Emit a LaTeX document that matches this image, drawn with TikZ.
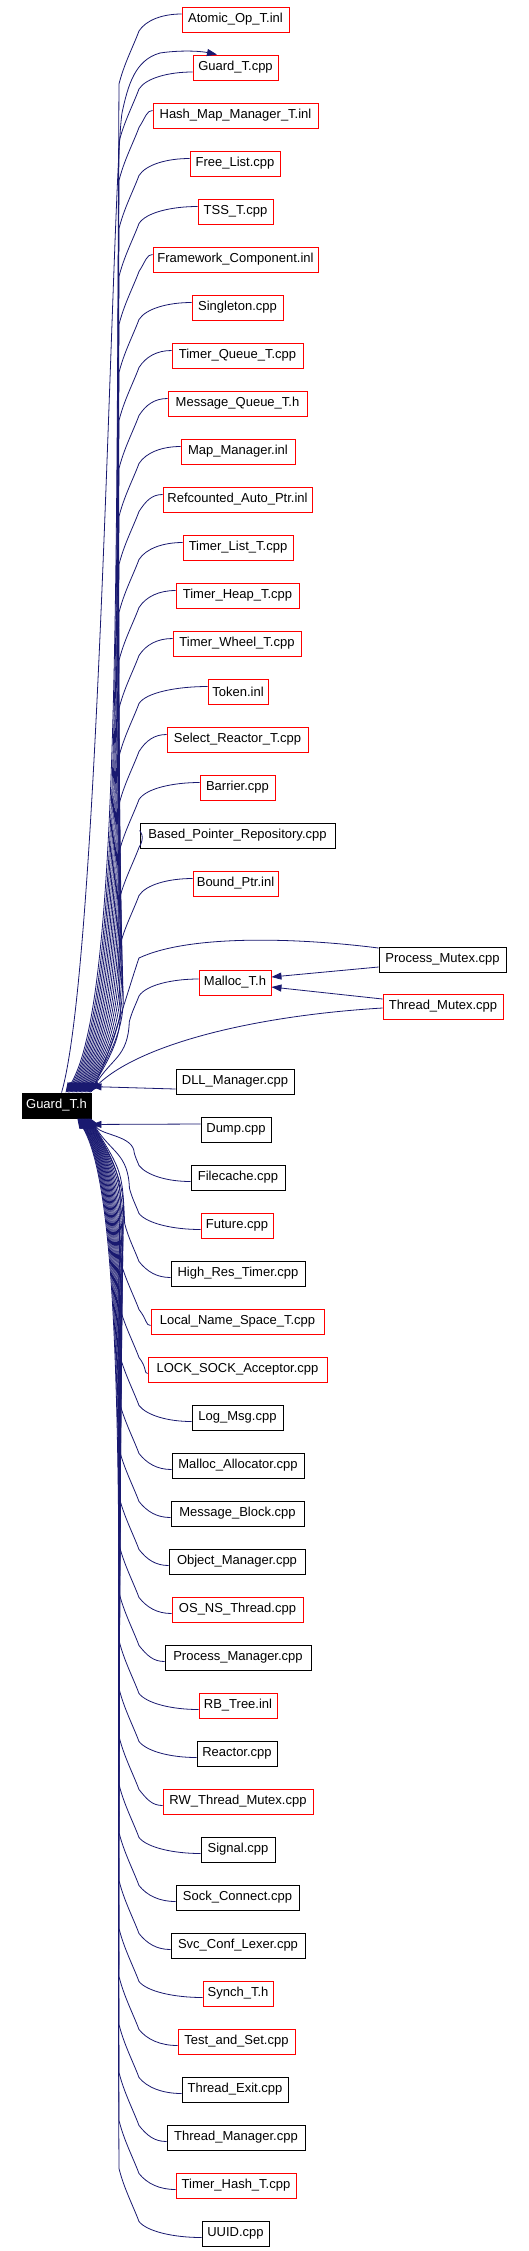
\documentclass[tikz,border=0pt]{standalone}
\usepackage{fontspec}
\setmainfont{Liberation Sans}
\usetikzlibrary{arrows.meta,calc}
\definecolor{mblue}{HTML}{191970}
\definecolor{bred}{HTML}{FF0000}
\tikzset{
  box/.style={draw, line width=0.9pt, minimum height=25pt, inner xsep=0pt, inner ysep=0pt,
    font=\fontsize{13}{15}\selectfont, text=black, fill=white},
  edge/.style={draw=mblue, line width=0.8pt, -{Triangle[length=10pt,width=7pt]}, mblue}
}
\begin{document}
\begin{tikzpicture}[x=1pt,y=-1pt]
\fill[white] (0,0) rectangle (528,2251);
\useasboundingbox (0,0) rectangle (528,2251);

% root node
\node[box, draw=black, fill=black, text=white, minimum width=69pt] (g) at (56.5,1105.5) {Guard\_T.h};

% nodes
\foreach \n/\l/\r/\t/\c/\s in {
 a0/182/289/7/bred/Atomic\_Op\_T.inl,
 a1/193/278/55/bred/Guard\_T.cpp,
 a2/153/318/103/bred/Hash\_Map\_Manager\_T.inl,
 a3/190/280/151/bred/Free\_List.cpp,
 a4/198/273/199/bred/TSS\_T.cpp,
 a5/153/318/247/bred/Framework\_Component.inl,
 a6/192/283/295/bred/Singleton.cpp,
 a7/172/303/343/bred/Timer\_Queue\_T.cpp,
 a8/168/307/391/bred/Message\_Queue\_T.h,
 a9/181/295/439/bred/Map\_Manager.inl,
 a10/163/312/487/bred/Refcounted\_Auto\_Ptr.inl,
 a11/183/293/535/bred/Timer\_List\_T.cpp,
 a12/176/299/583/bred/Timer\_Heap\_T.cpp,
 a13/173/301/631/bred/Timer\_Wheel\_T.cpp,
 a14/208/268/679/bred/Token.inl,
 a15/167/308/727/bred/Select\_Reactor\_T.cpp,
 a16/200/275/775/bred/Barrier.cpp,
 a17/140/335/823/black/Based\_Pointer\_Repository.cpp,
 a18/193/278/871/bred/Bound\_Ptr.inl,
 malloc/199/271/970/bred/Malloc\_T.h,
 pm/379/506/947/black/Process\_Mutex.cpp,
 tm/383/503/994/bred/Thread\_Mutex.cpp,
 dll/176/294/1069/black/DLL\_Manager.cpp,
 dump/201/271/1117/black/Dump.cpp,
 b0/191/285/1165/black/Filecache.cpp,
 b1/201/273/1213/bred/Future.cpp,
 b2/171/305/1261/black/High\_Res\_Timer.cpp,
 b3/151/324/1309/bred/Local\_Name\_Space\_T.cpp,
 b4/148/327/1357/bred/LOCK\_SOCK\_Acceptor.cpp,
 b5/192/283/1405/black/Log\_Msg.cpp,
 b6/172/304/1453/black/Malloc\_Allocator.cpp,
 b7/171/304/1501/black/Message\_Block.cpp,
 b8/169/305/1549/black/Object\_Manager.cpp,
 b9/172/303/1597/bred/OS\_NS\_Thread.cpp,
 b10/165/311/1645/black/Process\_Manager.cpp,
 b11/199/277/1693/bred/RB\_Tree.inl,
 b12/197/277/1741/black/Reactor.cpp,
 b13/163/313/1789/bred/RW\_Thread\_Mutex.cpp,
 b14/201/275/1837/black/Signal.cpp,
 b15/176/299/1885/black/Sock\_Connect.cpp,
 b16/171/305/1933/black/Svc\_Conf\_Lexer.cpp,
 b17/203/273/1981/bred/Synch\_T.h,
 b18/178/295/2029/bred/Test\_and\_Set.cpp,
 b19/182/288/2077/black/Thread\_Exit.cpp,
 b20/167/305/2125/black/Thread\_Manager.cpp,
 b21/176/296/2173/bred/Timer\_Hash\_T.cpp,
 b22/202/269/2221/black/UUID.cpp}
{
  \node[box, draw=\c, minimum width={\r-\l}] (\n) at ({(\l+\r)/2},{\t+12.5}) {\s};
}

% upper edges into the top of Guard_T.h
\foreach \n/\l/\t/\i/\ys in {
 a0/182/7/0/5.5, a1/193/55/1/-4.5, a2/153/103/2/5, a3/190/151/3/5, a4/198/199/4/5,
 a5/153/247/5/5, a6/192/295/6/5, a7/172/343/7/5, a8/168/391/8/5, a9/181/439/9/5,
 a10/163/487/10/5, a11/183/535/11/5, a12/176/583/12/5, a13/173/631/13/5,
 a14/208/679/14/5, a15/167/727/15/5, a16/200/775/16/5, a17/140/823/17/5,
 a18/193/871/18/5, malloc/199/970/19/3.5}
{
  \pgfmathsetmacro\yw{\t+12.5-\ys}
  \pgfmathsetmacro\py{\yw+17}
  \pgfmathsetmacro\tx{66+1.3*\i}
  \pgfmathsetmacro\ff{min(1,(1093-\py)/200)}
  \pgfmathsetmacro\by{\py+53*\ff}
  \pgfmathsetmacro\L{1093-\by}
  \pgfmathsetmacro\q{min(90,0.5*\L)}
  \draw[edge] ([yshift=\ys pt]\n.west) .. controls ({\l-0.45*(\l-139)},\yw) and (146,{\yw+6}) .. (139,\py)
     .. controls ({139-6*\ff},{\py+16*\ff}) and ({139-15*\ff},{\py+33*\ff}) .. ({139-20*\ff},\by)
     .. controls ({139-23*\ff},{\by+0.5*\L}) and ({\tx+0.6*\q},{1093-\q}) .. ($(g.north west)+({\tx-22},0)$);
}

% lower edges into the bottom of Guard_T.h
\foreach \n/\l/\t/\j in {
 b0/191/1165/0, b1/201/1213/1, b2/171/1261/2, b3/151/1309/3, b4/148/1357/4,
 b5/192/1405/5, b6/172/1453/6, b7/171/1501/7, b8/169/1549/8, b9/172/1597/9,
 b10/165/1645/10, b11/199/1693/11, b12/197/1741/12, b13/163/1789/13,
 b14/201/1837/14, b15/176/1885/15, b16/171/1933/16, b17/203/1981/17,
 b18/178/2029/18, b19/182/2077/19, b20/167/2125/20, b21/176/2173/21, b22/202/2221/22}
{
  \pgfmathsetmacro\yw{\t+16.5}
  \pgfmathsetmacro\py{\yw-16}
  \pgfmathsetmacro\tx{91-0.6*\j}
  \pgfmathsetmacro\ff{min(1,(\py-1118)/200)}
  \pgfmathsetmacro\by{\py-53*\ff}
  \pgfmathsetmacro\L{\by-1118}
  \pgfmathsetmacro\q{min(90,0.5*\L)}
  \draw[edge] ([yshift=-4pt]\n.west) .. controls ({\l-0.45*(\l-139)},\yw) and (147,{\yw-6}) .. (139,\py)
     .. controls ({139-6*\ff},{\py-16*\ff}) and ({139-15*\ff},{\py-33*\ff}) .. ({139-20*\ff},\by)
     .. controls ({139-23*\ff},{\by-0.5*\L}) and ({\tx+0.6*\q},{1118+\q}) .. ($(g.south west)+({\tx-22},0)$);
}

% Guard_T.h -> Guard_T.cpp (template include)
\draw[edge] ($(g.north west)+(40,0)$) .. controls (100,960) and (112,180) .. (122,113)
   .. controls (128,85) and (135,60) .. (160,53) .. controls (180,50) and (200,51) .. ([xshift=-18.5pt]a1.north);

% Process_Mutex / Thread_Mutex
\draw[edge] ([yshift=11.5pt]pm.west) .. controls (300,938) and (190,934) .. (139,958)
   .. controls (128,990) and (110,1055) .. ($(g.north west)+(69,0)$);
\draw[edge] ([yshift=-1.5pt]tm.west) .. controls (250,1016) and (140,1045) .. ($(g.north east)+(0,-2)$);
\draw[edge] ([yshift=-7.5pt]pm.west) -- ([yshift=5.5pt]malloc.east);
\draw[edge] ([yshift=7.5pt]tm.west) -- ([yshift=-4.5pt]malloc.east);

% near nodes
\draw[edge] ([yshift=-7.5pt]dll.west) -- ($(g.north east)+(0,-6)$);
\draw[edge] ([yshift=5.5pt]dump.west) -- ($(g.south east)+(0,6)$);
\end{tikzpicture}
\end{document}
